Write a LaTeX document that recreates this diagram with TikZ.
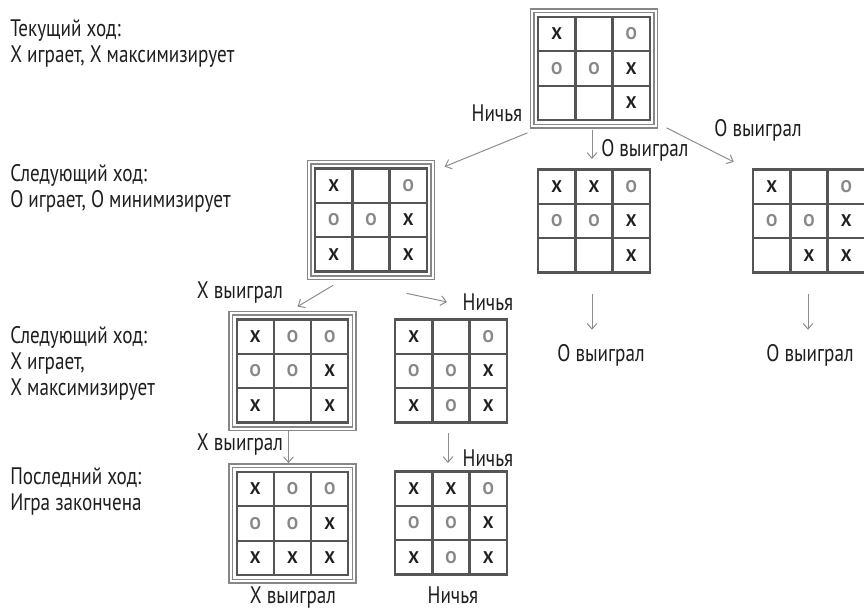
\documentclass[tikz,border=0pt]{standalone}
\usepackage{fontspec}
\setmainfont[FakeStretch=0.8]{PT Sans}
\newfontfamily\boardfont{PT Sans}
\usetikzlibrary{matrix,fit,calc,arrows.meta}
\definecolor{gridgray}{RGB}{85,85,85}
\definecolor{framegray}{RGB}{135,135,135}
\definecolor{arrowgray}{RGB}{140,140,140}
\definecolor{ogray}{RGB}{135,135,135}
\definecolor{inkblack}{RGB}{30,30,30}
\newcommand{\Omark}{\textcolor{ogray}{O}}
\tikzset{
    cell/.style={draw=gridgray, line width=1.6pt, minimum width=0.93cm, minimum height=0.86cm, inner sep=0pt, anchor=center, font=\boardfont\bfseries\fontsize{12}{12}\selectfont, text=inkblack},
    board/.style={matrix of nodes, nodes in empty cells, nodes={cell}, column sep=-1.6pt, row sep=-1.6pt, inner sep=0pt},
    boardframe/.style={draw=framegray, line width=1pt, double=white, double distance=1.4pt, inner sep=3.3pt},
    link/.style={draw=arrowgray, line width=0.7pt, -{Straight Barb[length=4pt,width=7pt]}},
    stage/.style={align=left, anchor=north west, inner sep=0pt, font=\fontsize{17}{18.5}\selectfont, text=inkblack},
    lbl/.style={inner sep=0pt, font=\fontsize{17}{18.5}\selectfont, text=inkblack}
}
\begin{document}
\begin{tikzpicture}[x=0.025cm, y=-0.025cm]
    \useasboundingbox (0,0) rectangle (864,610);

    % Stages on the left
    \node [stage] (s1) at (10,19) {Текущий ход:\\X играет, X максимизирует};
    \node [stage] (s2) at (10,164) {Следующий ход:\\O играет, O минимизирует};
    \node [stage] (s3) at (10,326) {Следующий ход:\\X играет,\\X максимизирует};
    \node [stage] (s4) at (10,467) {Последний ход:\\Игра закончена};

    % Boards
    \matrix [board] (b0) at (594,68.5) {
        X & & \Omark \\
        \Omark & \Omark & X \\
        & & X \\
    };
    \matrix [board] (b1) at (371,220) {
        X & & \Omark \\
        \Omark & \Omark & X \\
        X & & X \\
    };
    \matrix [board] (b2) at (594,221) {
        X & X & \Omark \\
        \Omark & \Omark & X \\
        & & X \\
    };
    \matrix [board] (b3) at (809,221) {
        X & & \Omark \\
        \Omark & \Omark & X \\
        & X & X \\
    };
    \matrix [board] (b4) at (292.5,371) {
        X & \Omark & \Omark \\
        \Omark & \Omark & X \\
        X & & X \\
    };
    \matrix [board] (b5) at (451,371) {
        X & & \Omark \\
        \Omark & \Omark & X \\
        X & \Omark & X \\
    };
    \matrix [board] (b6) at (292.5,523.5) {
        X & \Omark & \Omark \\
        \Omark & \Omark & X \\
        X & X & X \\
    };
    \matrix [board] (b7) at (451,523) {
        X & X & \Omark \\
        \Omark & \Omark & X \\
        X & \Omark & X \\
    };

    % Frames of the chosen path
    \node [boardframe, fit=(b0)] (f0) {};
    \node [boardframe, fit=(b1)] (f1) {};
    \node [boardframe, fit=(b4)] (f4) {};
    \node [boardframe, fit=(b6)] (f6) {};

    % Outcome labels
    \node [lbl] (l01) at (497,113) {Ничья};
    \node [lbl, anchor=west] (l02) at (601,150) {O выиграл};
    \node [lbl] (l03) at (758,130) {O выиграл};
    \node [lbl] (l14) at (240,293) {X выиграл};
    \node [lbl] (l15) at (488,302) {Ничья};
    \node [lbl] (l46) at (240,445) {X выиграл};
    \node [lbl] (l57) at (488,458) {Ничья};
    \node [lbl] (r2) at (601,355) {O выиграл};
    \node [lbl] (r3) at (810,355) {O выиграл};
    \node [lbl, anchor=base] (r6) at (293,603) {X выиграл};
    \node [lbl, anchor=base] (r7) at (453,603) {Ничья};

    % Moves
    \draw [link] ($(f0.south west)+(-4,6)$) -- ($(f1.north east)+(11,5)$);
    \draw [link] ($(f0.south)+(-2,3)$) -- ($(b2.north)+(-2,-9)$);
    \draw [link] ($(f0.south east)+(10,1)$) -- ($(b3.north west)+(-18,-6)$);
    \draw [link] ($(f1.south)+(-38,7)$) -- ($(f4.north)+(5,-6)$);
    \draw [link] ($(f1.south east)+(-27,15)$) -- ($(b5.north)+(-4,-16)$);
    \draw [link] ($(f4.south)+(-4,2)$) -- ($(f6.north)+(-4,-2)$);
    \draw [link] ($(b5.south)+(-3,9)$) -- ($(b7.north)+(-3,-7)$);
    \draw [link] ($(b2.south)+(-2,20)$) -- ($(r2.north)+(-9,-14)$);
    \draw [link] ($(b3.south)+(-1,20)$) -- ($(r3.north)+(-2,-14)$);
\end{tikzpicture}
\end{document}
